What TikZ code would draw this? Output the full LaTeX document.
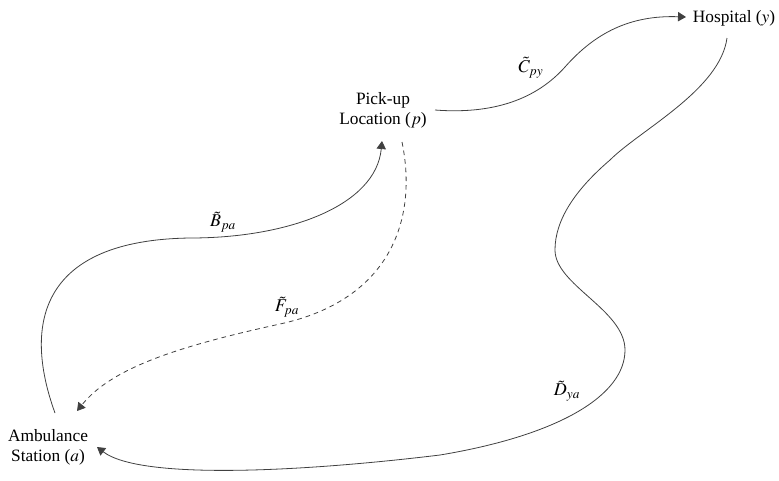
\documentclass[tikz,border=0pt]{standalone}
\usepackage{mathptmx}
\usepackage[no-math]{fontspec}
\setmainfont{Liberation Serif}
\usetikzlibrary{arrows.meta}

\tikzset{
  place/.style={align=center, inner sep=0pt, font=\fontsize{13}{15}\selectfont},
  cost/.style={inner sep=0pt, font=\fontsize{13.5}{15}\selectfont},
  route/.style={draw=black!75, line width=0.6pt, -{Triangle[length=6pt,width=7pt]}},
  backroute/.style={route, dashed, dash pattern=on 3.5pt off 3pt},
}

\begin{document}
\begin{tikzpicture}[x=0.75pt, y=-0.75pt]
  \useasboundingbox (0,0) rectangle (779,480);

  % locations
  \node[place] (a) at (48,447) {Ambulance\\Station ($a$)};
  \node[place] (p) at (383,110) {Pick-up\\Location ($p$)};
  \node[place] (y) at (734,18) {Hospital ($y$)};

  % connector ends near the locations
  \coordinate (a-up)   at (55,413);
  \coordinate (a-in)   at (77,411);
  \coordinate (a-back) at (97,447);
  \coordinate (p-in)   at (382,141);
  \coordinate (p-down) at (402,142);
  \coordinate (p-out)  at (435,110);
  \coordinate (y-in)   at (686,17);
  \coordinate (y-down) at (727,38);

  % station to pick-up
  \draw[route] (a-up) .. controls (22,322) and (42,240) .. (190,238)
                     .. controls (290,238) and (376,205) .. (p-in);
  % pick-up back to station
  \draw[backroute] (p-down) .. controls (418,220) and (390,300) .. (280,324)
                          .. controls (170,348) and (110,370) .. (a-in);
  % pick-up to hospital
  \draw[route] (p-out) .. controls (500,115) and (540,95) .. (565,67)
                      .. controls (595,33) and (630,15) .. (y-in);
  % hospital back to station
  \draw[route] (y-down) .. controls (720,90) and (640,130) .. (610,160)
                       .. controls (575,190) and (555,220) .. (555,250)
                       .. controls (555,285) and (625,310) .. (625,350)
                       .. controls (625,395) and (560,435) .. (440,455)
                       .. controls (300,472) and (140,480) .. (a-back);

  % travel time labels
  \node[cost] (B) at (223,222) {$\tilde{B}_{pa}$};
  \node[cost] (F) at (287,307) {$\tilde{F}_{pa}$};
  \node[cost] (C) at (531,68) {$\tilde{C}_{py}$};
  \node[cost] (D) at (567,391) {$\tilde{D}_{ya}$};
\end{tikzpicture}
\end{document}
